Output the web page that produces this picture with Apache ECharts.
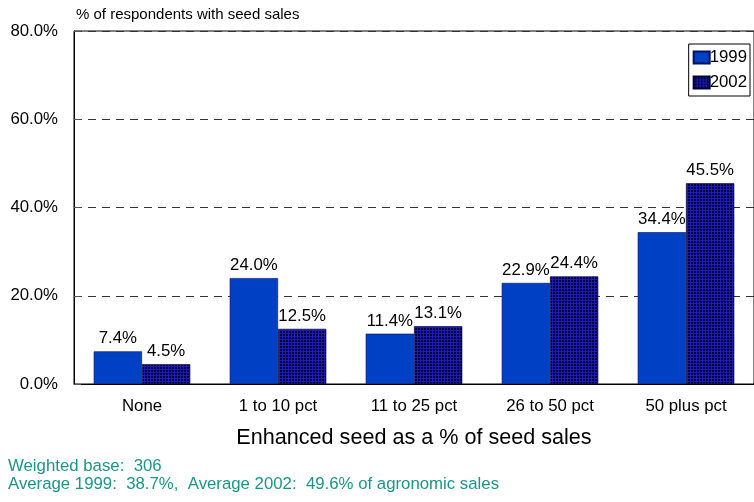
<!DOCTYPE html>
<html>
<head>
<meta charset="utf-8">
<script src="https://cdn.jsdelivr.net/npm/echarts@6/dist/echarts.min.js"></script>
<style>
  html, body { margin: 0; padding: 0; background: #fff; }
  #chart { width: 754px; height: 502px; }
</style>
</head>
<body>
<div id="chart"></div>
<script>
// Share of respondents by enhanced-seed share of seed sales
const categories = ['None', '1 to 10 pct', '11 to 25 pct', '26 to 50 pct', '50 plus pct'];
const values1999 = [7.4, 24.0, 11.4, 22.9, 34.4];
const values2002 = [4.5, 12.5, 13.1, 24.4, 45.5];
const yTicks = [0, 20, 40, 60, 80];
const footnotes = [
  'Weighted base:  306',
  'Average 1999:  38.7%,  Average 2002:  49.6% of agronomic sales'
];

// Small repeating tile: dark navy cells separated by blue grid lines
function gridPattern() {
  const c = document.createElement('canvas');
  c.width = 3; c.height = 3;
  const g = c.getContext('2d');
  g.fillStyle = '#000040';
  g.fillRect(0, 0, 3, 3);
  g.fillStyle = '#1c1cb4';
  g.fillRect(0, 0, 3, 1);
  g.fillRect(0, 0, 1, 3);
  return c;
}

const font = 'Liberation Sans, Arial, sans-serif';
const chart = echarts.init(document.getElementById('chart'), null, { renderer: 'canvas' });

const labelCfg = {
  show: true,
  position: 'top',
  distance: 4,
  color: '#000',
  fontFamily: font,
  fontSize: 16.8,
  formatter: p => p.value.toFixed(1) + '%'
};

chart.setOption({
  animation: false,
  textStyle: { fontFamily: font },
  grid: {
    left: 74, right: -5, top: 31, bottom: 118,
    show: true, borderColor: '#000', borderWidth: 1, backgroundColor: 'transparent'
  },
  legend: {
    orient: 'vertical',
    right: 4, top: 44,
    icon: 'rect',
    itemWidth: 16, itemHeight: 12, itemGap: 8,
    padding: [5, 3, 5, 4],
    borderColor: '#000', borderWidth: 1,
    textStyle: { fontFamily: font, fontSize: 16.8, color: '#000', padding: [0, 0, 0, -5] },
    data: ['1999', '2002']
  },
  xAxis: {
    type: 'category',
    data: categories,
    name: 'Enhanced seed as a % of seed sales',
    nameLocation: 'middle',
    nameGap: 43,
    nameTextStyle: { fontFamily: font, fontSize: 21.6, color: '#000' },
    axisLine: { lineStyle: { color: '#000', width: 1 } },
    axisTick: { show: false },
    axisLabel: { fontFamily: font, fontSize: 16.8, color: '#000', margin: 14 }
  },
  yAxis: {
    type: 'value',
    min: yTicks[0], max: yTicks[yTicks.length - 1], interval: 20,
    axisLine: { show: true, lineStyle: { color: '#000' } },
    axisTick: { show: true, inside: true, length: 7, lineStyle: { color: '#555' } },
    axisLabel: { fontFamily: font, fontSize: 16.8, color: '#000', margin: 16,
      formatter: v => v.toFixed(1) + '%' },
    splitLine: { show: true, lineStyle: { color: '#333', type: [8, 6], width: 1 } }
  },
  series: [
    {
      name: '1999', type: 'bar', data: values1999,
      barGap: '0%', barCategoryGap: '29%',
      itemStyle: { color: '#0040c4', borderColor: '#001060', borderWidth: 0.6 },
      label: labelCfg
    },
    {
      name: '2002', type: 'bar', data: values2002,
      itemStyle: { color: { image: gridPattern(), repeat: 'repeat' }, borderColor: '#000030', borderWidth: 0.6 },
      label: labelCfg
    }
  ],
  graphic: [
    { type: 'text', left: 76, top: 7,
      style: { text: '% of respondents with seed sales', fontFamily: font, fontSize: 15, fill: '#000' } },
    { type: 'text', left: 8, top: 458,
      style: { text: footnotes[0], fontFamily: font, fontSize: 16.8, fill: '#1a9688' } },
    { type: 'text', left: 8, top: 476,
      style: { text: footnotes[1], fontFamily: font, fontSize: 16.8, fill: '#1a9688' } }
  ]
});
</script>
</body>
</html>
